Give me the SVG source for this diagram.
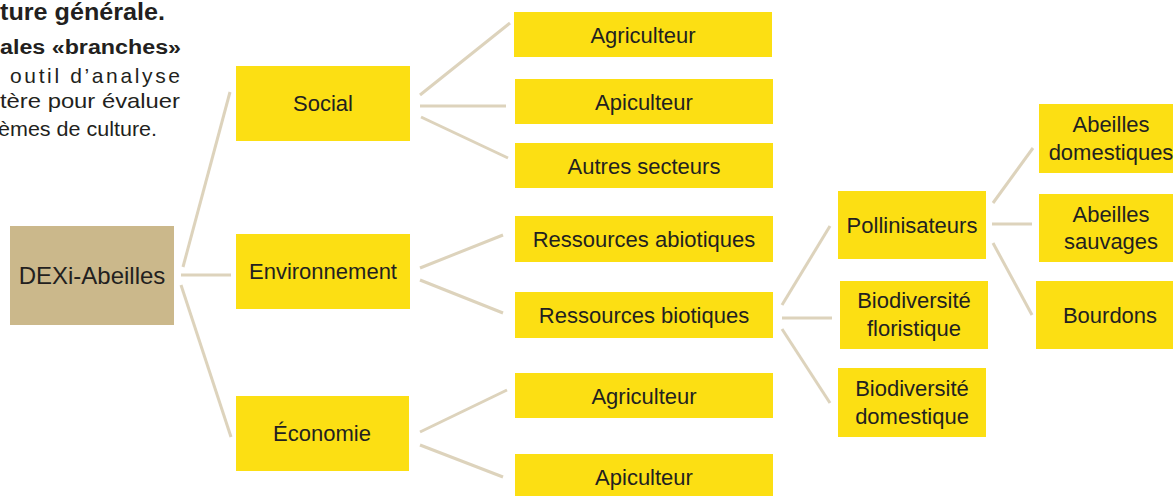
<svg xmlns="http://www.w3.org/2000/svg" width="1173" height="496" viewBox="0 0 1173 496">
<style>
.n{fill:#fcdf13}
.root{fill:#cbb88b}
.t{font-family:"Liberation Sans",Arial,sans-serif;font-size:22px;fill:#231f20;text-anchor:middle}
.rt{font-size:24px}
.c line{stroke:#ddd3bc;stroke-width:3;fill:none}
.h{font-family:"Liberation Sans",Arial,sans-serif;fill:#231f20}
</style>
<rect width="1173" height="496" fill="#ffffff"/>
<g id="intro">
<text class="h" x="0" y="20" font-size="24" font-weight="bold" textLength="165" lengthAdjust="spacingAndGlyphs">ture générale.</text>
<text class="h" x="0" y="54" font-size="20" font-weight="bold" textLength="181" lengthAdjust="spacingAndGlyphs">ales «branches»</text>
<text class="h" x="10" y="83" font-size="21" textLength="170" lengthAdjust="spacing">outil d’analyse</text>
<text class="h" x="0" y="108" font-size="21" textLength="180" lengthAdjust="spacingAndGlyphs">tère pour évaluer</text>
<text class="h" x="-2" y="136" font-size="21" textLength="159" lengthAdjust="spacingAndGlyphs">èmes de culture.</text>
</g>
<g class="c" id="connectors">
<line x1="183" y1="267" x2="230" y2="92"/>
<line x1="181" y1="275" x2="231" y2="275"/>
<line x1="181" y1="285" x2="231" y2="437"/>
<line x1="420" y1="95" x2="510" y2="23"/>
<line x1="420" y1="106" x2="506" y2="106"/>
<line x1="421" y1="117" x2="508" y2="158"/>
<line x1="420" y1="268" x2="503" y2="235"/>
<line x1="420" y1="280" x2="503" y2="313"/>
<line x1="420" y1="432" x2="507" y2="390"/>
<line x1="420" y1="445" x2="503" y2="477"/>
<line x1="782" y1="305" x2="830" y2="226"/>
<line x1="782" y1="318" x2="832" y2="318"/>
<line x1="782" y1="329" x2="830" y2="403"/>
<line x1="993" y1="203" x2="1033" y2="148"/>
<line x1="992" y1="224" x2="1032" y2="224"/>
<line x1="993" y1="243" x2="1032" y2="315"/>
</g>
<g id="dexi"><rect class="root" x="10" y="226" width="164" height="99"/><text class="t rt" x="92" y="284">DEXi-Abeilles</text></g>
<g id="social"><rect class="n" x="236" y="66" width="174" height="75"/><text class="t" x="323" y="111">Social</text></g>
<g id="environnement"><rect class="n" x="236" y="234" width="174" height="75"/><text class="t" x="323" y="279">Environnement</text></g>
<g id="economie"><rect class="n" x="236" y="396" width="173" height="75"/><text class="t" x="322" y="441">Économie</text></g>
<g id="social-agriculteur"><rect class="n" x="514" y="12" width="258" height="45"/><text class="t" x="643" y="43">Agriculteur</text></g>
<g id="social-apiculteur"><rect class="n" x="515" y="79" width="258" height="45"/><text class="t" x="644" y="110">Apiculteur</text></g>
<g id="autres-secteurs"><rect class="n" x="515" y="143" width="258" height="45"/><text class="t" x="644" y="174">Autres secteurs</text></g>
<g id="ressources-abiotiques"><rect class="n" x="515" y="216" width="258" height="46"/><text class="t" x="644" y="247">Ressources abiotiques</text></g>
<g id="ressources-biotiques"><rect class="n" x="515" y="292" width="258" height="46"/><text class="t" x="644" y="323">Ressources biotiques</text></g>
<g id="eco-agriculteur"><rect class="n" x="515" y="373" width="258" height="45"/><text class="t" x="644" y="404">Agriculteur</text></g>
<g id="eco-apiculteur"><rect class="n" x="515" y="454" width="258" height="45"/><text class="t" x="644" y="485">Apiculteur</text></g>
<g id="pollinisateurs"><rect class="n" x="838" y="191" width="148" height="68"/><text class="t" x="912" y="233">Pollinisateurs</text></g>
<g id="biodiversite-floristique"><rect class="n" x="840" y="281" width="148" height="68"/><text class="t" x="914" y="308">Biodiversité</text><text class="t" x="914" y="336">floristique</text></g>
<g id="biodiversite-domestique"><rect class="n" x="838" y="368" width="148" height="69"/><text class="t" x="912" y="396">Biodiversité</text><text class="t" x="912" y="424">domestique</text></g>
<g id="abeilles-domestiques"><rect class="n" x="1039" y="104" width="150" height="69"/><text class="t" x="1111" y="132">Abeilles</text><text class="t" x="1111" y="160">domestiques</text></g>
<g id="abeilles-sauvages"><rect class="n" x="1039" y="194" width="150" height="68"/><text class="t" x="1111" y="222">Abeilles</text><text class="t" x="1111" y="249">sauvages</text></g>
<g id="bourdons"><rect class="n" x="1036" y="281" width="150" height="68"/><text class="t" x="1110" y="323">Bourdons</text></g>
</svg>
